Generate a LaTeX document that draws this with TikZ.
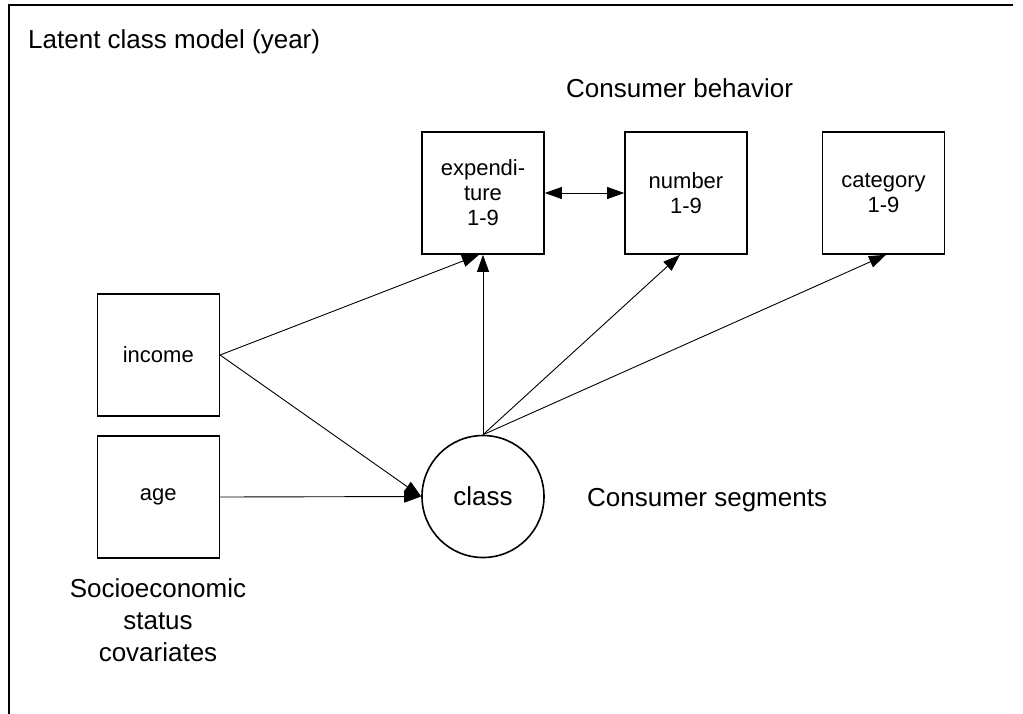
\documentclass[tikz,border=0pt]{standalone}
\usepackage{fontspec}
\setmainfont{Liberation Sans}
\usetikzlibrary{arrows.meta}
\begin{document}
\begin{tikzpicture}[x=1pt,y=-1pt,
  var/.style={draw,line width=1.6pt,minimum width=122pt,minimum height=122pt,inner sep=0pt,align=center,font=\fontsize{22}{25}\selectfont},
  lat/.style={draw,circle,line width=1.6pt,minimum size=122pt,inner sep=0pt,font=\fontsize{26}{30}\selectfont},
  lbl/.style={inner sep=0pt,font=\fontsize{26}{32}\selectfont},
  conn/.style={line width=0.9pt,-{Triangle[length=17pt,width=12pt]}},
  biconn/.style={line width=0.9pt,{Triangle[length=17pt,width=12pt]}-{Triangle[length=17pt,width=12pt]}}]
\useasboundingbox (0,0) rectangle (1023,713);
\draw[line width=1.6pt] (1013,5) -- (9,5) -- (9,720);
\node[lbl,anchor=base west] (title) at (28,48) {Latent class model (year)};
\node[lbl,anchor=base west] (behav) at (566,97) {Consumer behavior};
\node[lbl,anchor=base west] (segm) at (587,506) {Consumer segments};
\node[lbl,align=center,anchor=base] (ses) at (158,661) {Socioeconomic\\status\\covariates};
\node[var] (exp) at (483,193) {expendi-\\ture\\1-9};
\node[var] (num) at (686,193) {number\\1-9};
\node[var] (cat) at (883.5,193) {category\\1-9};
\node[var] (inc) at (158.3,355) {income};
\node[var] (age) at (158.3,497) {age};
\node[lat] (cls) at (483,496.5) {class};
\draw[biconn] (exp.east) -- (num.west);
\draw[conn] (inc.east) -- ([xshift=-4pt]exp.south);
\draw[conn] (inc.east) -- (cls.west);
\draw[conn] (age.east) -- (cls.west);
\draw[conn] (cls.north) -- (exp.south);
\draw[conn] (cls.north) -- ([xshift=-6pt]num.south);
\draw[conn] (cls.north) -- ([xshift=2.5pt]cat.south);
\end{tikzpicture}
\end{document}
